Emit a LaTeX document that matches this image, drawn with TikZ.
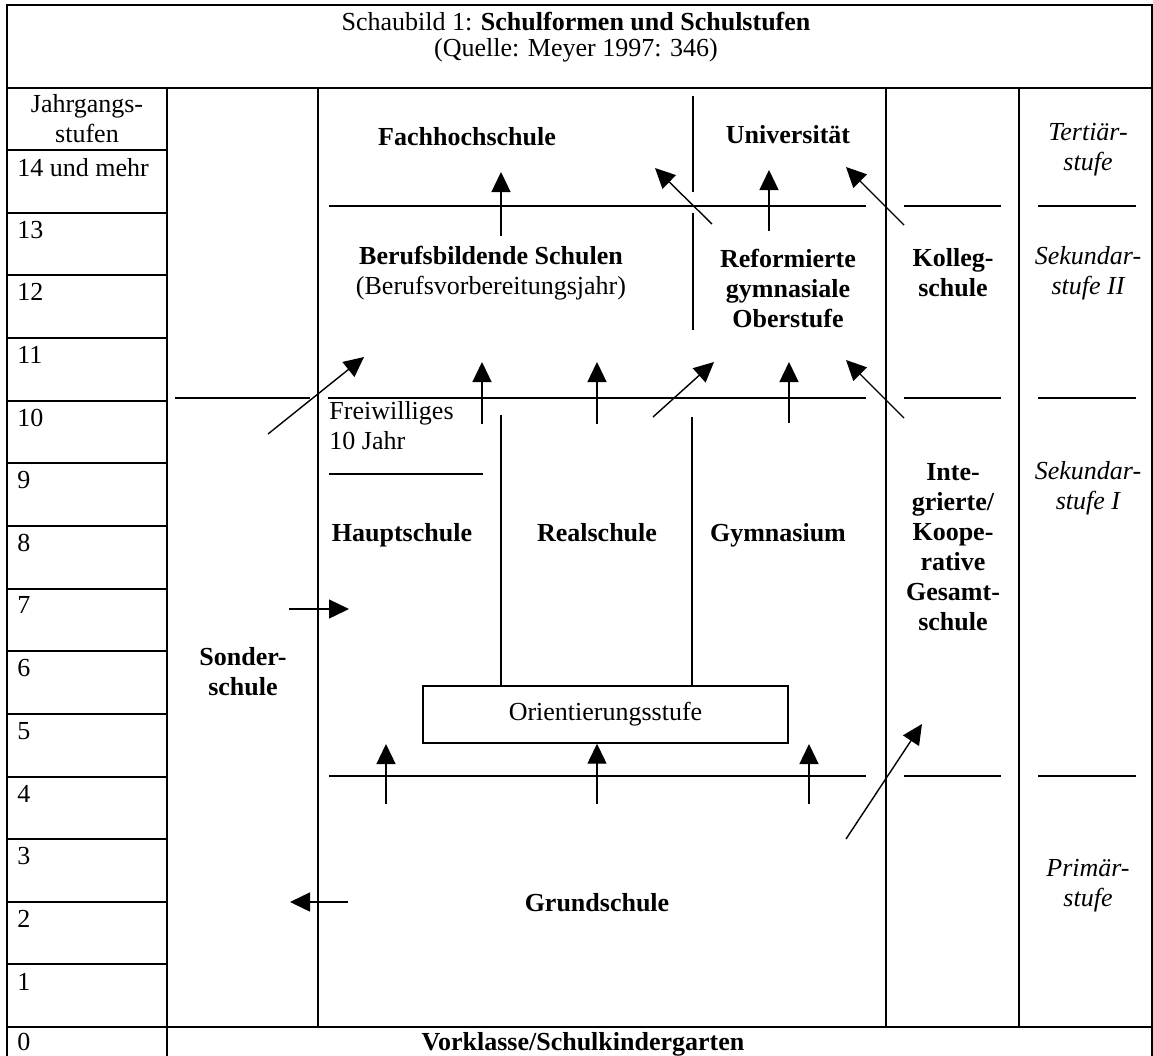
\documentclass[tikz,border=0pt]{standalone}
\usepackage{fontspec}
\setmainfont{Liberation Serif}
\usetikzlibrary{arrows.meta,positioning}

\tikzset{
  frameline/.style={line width=1pt},
  innerline/.style={line width=0.7pt},
  pfeil/.style={line width=0.7pt,-{Triangle[length=10pt,width=9.5pt]}},
  txt/.style={font=\fontsize{13}{15}\selectfont,align=center,inner sep=0pt},
  schule/.style={txt,font=\fontsize{13}{15}\selectfont\bfseries},
  stufe/.style={txt,font=\fontsize{13}{15}\selectfont\itshape},
}

\begin{document}
\begin{tikzpicture}[x=0.5pt,y=-0.5pt]
  \useasboundingbox (0,0) rectangle (1153,1056);

  % Rahmen und Spalten
  \draw[frameline] (7,5) rectangle (1151.5,1060);
  \draw[frameline] (7,88) -- (1151.5,88);
  \draw[frameline] (7,1027) -- (1151.5,1027);
  \draw[frameline] (167,88) -- (167,1060);
  \foreach \x in {318,886,1019}
    \draw[frameline] (\x,88) -- (\x,1027);

  % Jahrgangsstufen
  \node[txt] (jahr) at (87,119) {Jahrgangs-\\stufen};
  \foreach \lab [count=\i from 0] in {14 und mehr,13,12,11,10,9,8,7,6,5,4,3,2,1} {
    \draw[frameline] (7,{150+62.65*\i}) -- (167,{150+62.65*\i});
    \node[txt,anchor=north west] (row\i) at (17,{150+62.65*\i+8}) {\lab};
  }
  \node[txt,anchor=north west] (row14) at (17,1033) {0};

  % Titel
  \node[txt,font=\fontsize{13}{13}\selectfont] (titel) at (576,37)
    {Schaubild 1: \textbf{Schulformen und Schulstufen}\\(Quelle: Meyer 1997: 346)};

  % Stufengrenzen
  \draw[innerline] (329,206) -- (866,206);
  \draw[innerline] (175,398) -- (310,398);
  \draw[innerline] (328,398) -- (866,398);
  \draw[innerline] (329,776) -- (866,776);
  \foreach \y in {206,398,776} {
    \draw[innerline] (904,\y) -- (1001,\y);
    \draw[innerline] (1038,\y) -- (1136,\y);
  }
  \draw[innerline] (329,474) -- (483,474);
  \draw[innerline] (693,96) -- (693,192);
  \draw[innerline] (693,213) -- (693,330);

  % Schulformen
  \node[schule] (fh) at (467,137) {Fachhochschule};
  \node[schule] (uni) at (788,135) {Universität};
  \node[txt] (bbs) at (491,273) {\textbf{Berufsbildende Schulen}\\(Berufsvorbereitungsjahr)};
  \node[schule] (gos) at (788,288) {Reformierte\\gymnasiale\\Oberstufe};
  \node[schule] (kolleg) at (953,273) {Kolleg-\\schule};
  \node[txt,anchor=west,align=left] (frei) at (329,426) {Freiwilliges\\10 Jahr};
  \node[schule,anchor=base] (haupt) at (402,541) {Hauptschule};
  \node[schule,anchor=base] (real) at (597,541) {Realschule};
  \node[schule,anchor=base] (gym) at (778,541) {Gymnasium};
  \node[schule] (gesamt) at (953,547) {Inte-\\grierte/\\Koope-\\rative\\Gesamt-\\schule};
  \node[schule] (sonder) at (243,672) {Sonder-\\schule};
  \node[txt,draw,line width=0.7pt,minimum width=182.5pt,minimum height=28.5pt] (orient) at (605.5,714.5) {Orientierungsstufe};
  \node[schule] (grund) at (597,903) {Grundschule};
  \node[schule,anchor=north] (vorklasse) at (583,1032) {Vorklasse/Schulkindergarten};

  % Stufen
  \node[stufe] (tert) at (1088,150) {Tertiär-\\stufe};
  \node[stufe] (sek2) at (1088,273) {Sekundar-\\stufe II};
  \node[stufe] (sek1) at (1088,488) {Sekundar-\\stufe I};
  \node[stufe] (prim) at (1088,886) {Primär-\\stufe};

  % Linien zur Orientierungsstufe
  \coordinate (rtop) at (501,415);
  \coordinate (gtop) at (692,417);
  \draw[innerline] (rtop) -- (rtop |- orient.north);
  \draw[innerline] (gtop) -- (gtop |- orient.north);

  % Pfeile
  \foreach \n/\sx/\sy/\ex/\ey in {1/501/236/501/172, 2/712/224/655/168, 3/769/231/769/170,
      4/904/225/846/167, 5/268/434/364/357, 6/482/424/482/362, 7/597/424/597/362,
      8/653/417/714/362, 9/789/423/789/362, 10/904/418/846/360, 11/386/804/386/744,
      13/809/804/809/744, 14/846/839/922/724, 15/289/609/349/609, 16/348/902/290/902} {
    \coordinate (s\n) at (\sx,\sy);
    \coordinate (e\n) at (\ex,\ey);
    \draw[pfeil] (s\n) -- (e\n);
  }
  \coordinate (s12) at (597,804);
  \draw[pfeil] (s12) -- (s12 |- orient.south);
\end{tikzpicture}
\end{document}
